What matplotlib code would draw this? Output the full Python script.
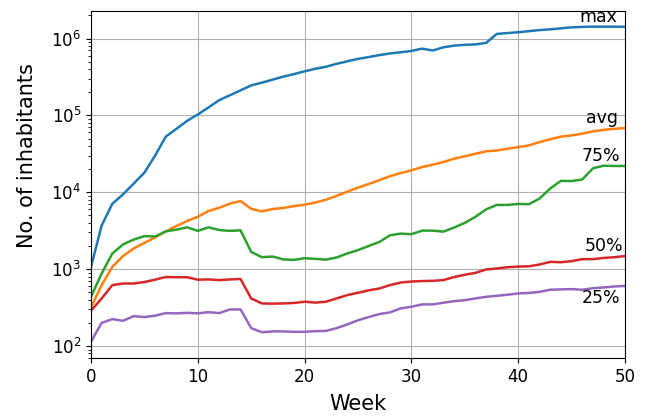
import matplotlib
matplotlib.use("Agg")
import matplotlib.pyplot as plt
import numpy as np

weeks = list(range(51))

max_vals = [1070, 3700, 7100, 9400, 13000, 18000, 30000, 53000, 67000, 85000,
            103000, 127000, 158000, 183000, 212000, 246000, 267000, 292000, 320000, 345000,
            375000, 405000, 430000, 470000, 506000, 545000, 575000, 610000, 640000, 665000,
            690000, 740000, 700000, 770000, 810000, 830000, 840000, 880000, 1150000, 1180000,
            1210000, 1250000, 1290000, 1320000, 1360000, 1400000, 1420000, 1430000, 1430000, 1430000,
            1425000]

avg_vals = [318, 620, 1070, 1480, 1860, 2200, 2580, 3100, 3640, 4240,
            4800, 5700, 6300, 7100, 7700, 6100, 5650, 6050, 6250, 6600,
            6900, 7350, 8000, 9000, 10200, 11500, 12800, 14400, 16200, 17800,
            19300, 21300, 22900, 24800, 27400, 29400, 31800, 34100, 35000, 36900,
            38700, 40700, 45000, 49000, 53000, 55000, 58000, 62000, 65000, 67000,
            68500]

p75_vals = [437, 880, 1600, 2100, 2430, 2690, 2660, 3100, 3270, 3500,
            3150, 3500, 3230, 3150, 3200, 1680, 1430, 1460, 1340, 1320,
            1390, 1360, 1330, 1420, 1600, 1770, 2000, 2260, 2760, 2900,
            2850, 3170, 3170, 3080, 3480, 4000, 4800, 6000, 6850, 6850,
            7050, 7000, 8300, 11200, 14100, 14000, 14700, 20500, 22200, 22000,
            22000]

p50_vals = [287, 416, 620, 650, 650, 680, 730, 790, 785, 785,
            730, 735, 720, 735, 745, 416, 358, 356, 358, 363,
            377, 367, 377, 416, 460, 493, 530, 560, 620, 670,
            690, 700, 705, 720, 790, 845, 895, 990, 1020, 1060,
            1080, 1090, 1150, 1245, 1230, 1270, 1350, 1350, 1400, 1430,
            1480]

p25_vals = [114, 200, 224, 213, 245, 238, 248, 268, 266, 270,
            266, 276, 268, 299, 299, 171, 151, 155, 155, 153,
            153, 156, 157, 171, 191, 216, 238, 260, 274, 309,
            324, 348, 348, 366, 383, 395, 416, 437, 450, 465,
            483, 490, 507, 540, 545, 550, 540, 565, 578, 595,
            605]

series = [("max", max_vals, "#1f77b4"),
          ("avg", avg_vals, "#ff7f0e"),
          ("75%", p75_vals, "#2ca02c"),
          ("50%", p50_vals, "#d62728"),
          ("25%", p25_vals, "#9467bd")]

fig = plt.figure(figsize=(6.47, 4.17), dpi=100)
ax = fig.add_axes([91/647, 1-358/417, (625-91)/647, (358-11)/417])

for name, vals, col in series:
    ax.plot(weeks, vals, color=col, lw=1.8)

ax.set_yscale("log")
ax.set_xlim(0, 50)
ax.set_ylim(10**1.844, 10**6.359)
ax.grid(True, which="major", color="#b0b0b0", lw=0.8)
ax.set_axisbelow(True)
ax.set_xticks([0, 10, 20, 30, 40, 50])
ax.tick_params(labelsize=12)
ax.set_xlabel("Week", fontsize=15, labelpad=6)
ax.set_ylabel("No. of inhabitants", fontsize=15, labelpad=10)
ax.yaxis.label.set_y(0.582)

lab_fs = 12.5
ax.text(49.3, max_vals[-1] * 1.03, "max", ha="right", va="bottom", fontsize=lab_fs)
ax.text(49.3, avg_vals[-1] * 1.03, "avg", ha="right", va="bottom", fontsize=lab_fs)
ax.text(49.6, p75_vals[-1] * 1.03, "75%", ha="right", va="bottom", fontsize=lab_fs)
ax.text(49.8, p50_vals[-1] * 1.03, "50%", ha="right", va="bottom", fontsize=lab_fs)
ax.text(49.6, p25_vals[-1] * 0.9, "25%", ha="right", va="top", fontsize=lab_fs)

fig.savefig("out.png", dpi=100)
